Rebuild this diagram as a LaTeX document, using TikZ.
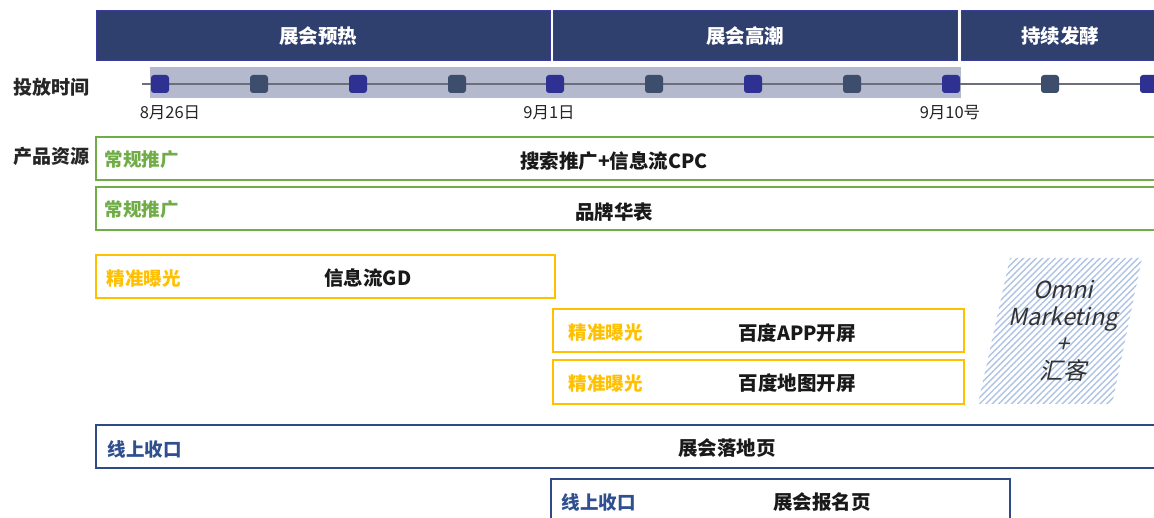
\documentclass[tikz,border=0pt]{standalone}
\usepackage{fontspec}
\setmainfont{Noto Sans CJK SC}
\newfontfamily\omnifont{Noto Sans CJK SC}[FakeSlant=0.22]
\usetikzlibrary{patterns.meta}
\definecolor{hdrnavy}{HTML}{2F3F6E}
\definecolor{hdredge}{HTML}{3A3C9F}
\definecolor{bandc}{HTML}{B4B9CE}
\definecolor{linec}{HTML}{6B6F7B}
\definecolor{sqblue}{HTML}{2E3192}
\definecolor{sqslate}{HTML}{3C4E6C}
\definecolor{grn}{HTML}{70AD47}
\definecolor{ylw}{HTML}{FFC000}
\definecolor{blu}{HTML}{2F4A84}
\definecolor{bluetxt}{HTML}{2F4F8F}
\definecolor{hatchc}{HTML}{AFC3E4}
\tikzset{
  hdr/.style={draw=hdredge, fill=hdrnavy, line width=1pt, anchor=north west, minimum height=50pt, inner sep=0pt},
  hdrtxt/.style={text=white, font=\fontsize{19.5}{22}\selectfont\bfseries},
  sqbox/.style={rounded corners=3pt, minimum width=18pt, minimum height=18pt, inner sep=0pt},
  sqa/.style={sqbox, fill=sqblue},
  sqb/.style={sqbox, fill=sqslate},
  datelbl/.style={font=\fontsize{16.5}{19}\selectfont, text=black!85},
  sidelbl/.style={font=\fontsize{19}{22}\selectfont\bfseries, text=black!85},
  gbox/.style={draw=grn, line width=2pt},
  ybox/.style={draw=ylw, line width=2pt},
  bbox/.style={draw=blu, line width=2pt},
  glbl/.style={anchor=west, text=grn, font=\fontsize{18.5}{21}\selectfont\bfseries},
  ylbl/.style={anchor=west, text=ylw, font=\fontsize{18.5}{21}\selectfont\bfseries},
  blbl/.style={anchor=west, text=bluetxt, font=\fontsize{18.5}{21}\selectfont\bfseries},
  ctxt/.style={text=black!90, font=\fontsize{19.5}{22}\selectfont\bfseries},
}
\begin{document}
\begin{tikzpicture}[x=1pt,y=-1pt]
\clip (0,0) rectangle (1154,518);
\fill[white] (0,0) rectangle (1154,518);
% header
\node[hdr, minimum width=454pt] (h1) at (96,10) {};
\node[hdr, minimum width=404pt] (h2) at (553,10) {};
\node[hdr, minimum width=210pt] (h3) at (961,10) {};
\node[hdrtxt] (h1t) at (318,36) {展会预热};
\node[hdrtxt] (h2t) at (745,36) {展会高潮};
\node[hdrtxt] (h3t) at (1060,36) {持续发酵};
% timeline
\fill[bandc] (150,67) rectangle (961,98);
\coordinate (tl0) at (142,84);
\coordinate (tl1) at (1160,84);
\draw[linec, line width=2.5pt] (tl0) -- (tl1);
\node[sqa] (s1) at (160,84) {};
\node[sqb] (s2) at (259,84) {};
\node[sqa] (s3) at (358,84) {};
\node[sqb] (s4) at (457,84) {};
\node[sqa] (s5) at (555,84) {};
\node[sqb] (s6) at (654,84) {};
\node[sqa] (s7) at (753,84) {};
\node[sqb] (s8) at (852,84) {};
\node[sqa] (s9) at (951,84) {};
\node[sqb] (s10) at (1050,84) {};
\node[sqa] (s11) at (1149,84) {};
\node[datelbl] (d1) at (170,113) {8月26日};
\node[datelbl] (d2) at (549,113) {9月1日};
\node[datelbl] (d3) at (950,113) {9月10号};
\node[sidelbl] (l1) at (51,87) {投放时间};
\node[sidelbl] (l2) at (51,156) {产品资源};
% green boxes
\draw[gbox] (96,137) rectangle (1170,180);
\node[glbl] (g1l) at (101,160) {常规推广};
\node[ctxt] (g1t) at (614,161) {搜索推广+信息流CPC};
\draw[gbox] (96,187) rectangle (1170,230);
\node[glbl] (g2l) at (101,210) {常规推广};
\node[ctxt] (g2t) at (614,212) {品牌华表};
% yellow boxes
\draw[ybox] (96,255) rectangle (555,298);
\node[ylbl] (y1l) at (103,278) {精准曝光};
\node[ctxt] (y1t) at (368,278) {信息流GD};
\draw[ybox] (553,309) rectangle (964,352);
\node[ylbl] (y2l) at (565,332) {精准曝光};
\node[ctxt] (y2t) at (797,333) {百度APP开屏};
\draw[ybox] (553,360) rectangle (964,404);
\node[ylbl] (y3l) at (565,383) {精准曝光};
\node[ctxt] (y3t) at (797,383) {百度地图开屏};
% hatched parallelogram
\fill[pattern={Lines[angle=45, distance=4.5pt, line width=1.4pt]}, pattern color=hatchc]
  (1010,258) -- (1142,258) -- (1112,404) -- (978,404) -- cycle;
\node[align=center, text=black!80, font=\omnifont\fontsize{23.5}{27}\selectfont] (om) at (1063,331) {Omni\\Marketing\\+\\汇客};
% blue boxes
\draw[bbox] (96,425) rectangle (1170,468);
\node[blbl] (b1l) at (104,449) {线上收口};
\node[ctxt] (b1t) at (727,448) {展会落地页};
\draw[bbox] (551,479) rectangle (1010,530);
\node[blbl] (b2l) at (558,502) {线上收口};
\node[ctxt] (b2t) at (822,502) {展会报名页};
\end{tikzpicture}
\end{document}
